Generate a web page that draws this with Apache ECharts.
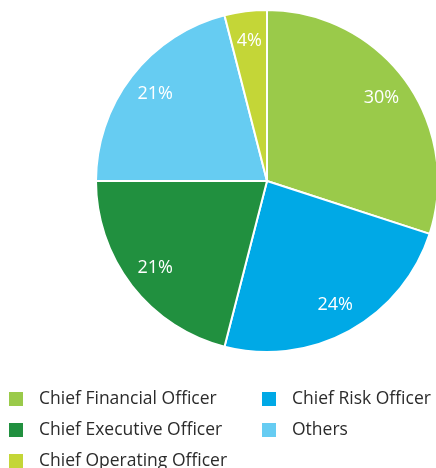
<!DOCTYPE html>
<html><head><meta charset="utf-8">
<script src="https://cdn.jsdelivr.net/npm/echarts@6/dist/echarts.min.js"></script>
<style>html,body{margin:0;padding:0;background:#fff}#c{width:436px;height:468px}</style>
</head><body><div id="c"></div>
<script>
var categories = ['Chief Financial Officer','Chief Risk Officer','Chief Executive Officer','Others','Chief Operating Officer'];
var values = [30, 24, 21, 21, 4];
var colors = ['#9ACA4A','#00A9E6','#21903F','#66CCF2','#C4D637'];
var legendOrder = ['Chief Financial Officer','Chief Risk Officer','Chief Executive Officer','Others','Chief Operating Officer'];

var data = categories.map(function(c,i){return {name:c, value:values[i]};});
var chart = echarts.init(document.getElementById('c'));
var legends = legendOrder.map(function(name, i){
  var col = i % 2, row = Math.floor(i / 2);
  return {
    orient:'horizontal', itemWidth:16, itemHeight:16, icon:'rect', padding:0,
    left: col === 0 ? 7 : 260, top: 390 + row * 31, height: 20,
    textStyle:{fontFamily:'Open Sans', fontSize:17.5, lineHeight:16, color:'#2b2b2b', padding:[0,0,0,10]},
    selectedMode:false, data:[name]
  };
});
chart.setOption({
  animation:false,
  color: colors,
  legend: legends,
  series:[
    {type:'pie', center:[267,181], radius:[0,171], startAngle:90, clockwise:true,
     data:data, label:{show:false}, labelLine:{show:false},
     itemStyle:{borderColor:'#fff', borderWidth:2}, emphasis:{disabled:true}},
    {type:'pie', center:[267,181], radius:[106,171], startAngle:90, clockwise:true,
     data:data, silent:true, legendHoverLink:false,
     itemStyle:{color:'rgba(0,0,0,0)', borderWidth:0},
     label:{show:true, position:'inside', color:'#fff', fontFamily:'Open Sans', fontSize:18,
       formatter:function(p){return p.value+'%';}},
     labelLine:{show:false}, emphasis:{disabled:true}}
  ]
});
</script></body></html>
